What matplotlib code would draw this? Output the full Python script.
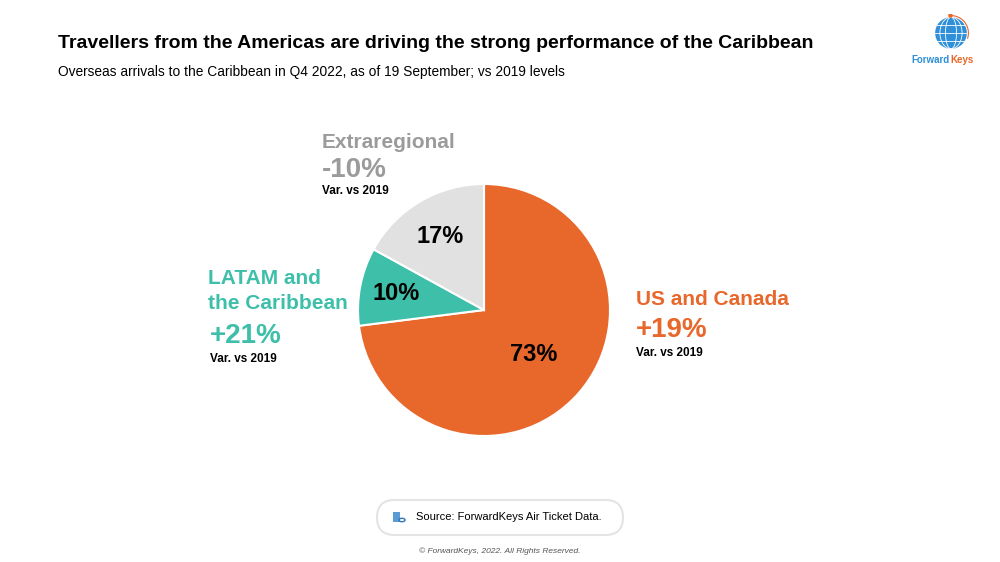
import matplotlib
matplotlib.use("Agg")
import matplotlib.pyplot as plt
from matplotlib.patches import FancyBboxPatch, Circle, Ellipse, Rectangle
import numpy as np

# ---- data ----
regions = ["US and Canada", "LATAM and\nthe Caribbean", "Extraregional"]
shares = [73, 10, 17]
share_labels = ["73%", "10%", "17%"]
variations = ["+19%", "+21%", "-10%"]
colors = ["#E8672B", "#3DBFAA", "#E1E1E1"]
text_colors = ["#E8672B", "#3DBFAA", "#9B9B9B"]

plt.rcParams['font.family'] = ['Liberation Sans', 'DejaVu Sans']

W, H = 1000, 562
fig = plt.figure(figsize=(W / 100, H / 100), dpi=100)
fig.patch.set_facecolor("white")

def px(x, y):
    return x / W, 1 - y / H

def ftext(x, y, s, **kw):
    fx, fy = px(x, y)
    fig.text(fx, fy, s, **kw)

# Title and subtitle
ftext(58, 44, "Travellers from the Americas are driving the strong performance of the Caribbean",
      fontsize=14, fontweight="bold", color="black", va="center", ha="left")
ftext(58, 72, "Overseas arrivals to the Caribbean in Q4 2022, as of 19 September; vs 2019 levels",
      fontsize=9.9, color="black", va="center", ha="left")

# Pie
cx, cy, r = 484, 310, 126
ax = fig.add_axes([(cx - r) / W, (H - cy - r) / H, 2 * r / W, 2 * r / H])
wedges, _ = ax.pie(shares, colors=colors, startangle=90, counterclock=False, radius=1,
                   wedgeprops=dict(edgecolor="white", linewidth=1.5))
ax.set_xlim(-1, 1)
ax.set_ylim(-1, 1)
ax.set_aspect("equal")
ax.axis("off")

dists = [0.53, 0.71, 0.68]
for w, lab, d in zip(wedges, share_labels, dists):
    mid = np.deg2rad((w.theta1 + w.theta2) / 2)
    ax.text(d * np.cos(mid), d * np.sin(mid), lab, ha="center", va="center",
            fontsize=17, fontweight="bold", color="black")

# Region annotations
# US and Canada
ftext(636, 300, regions[0], fontsize=15, fontweight="bold", color=text_colors[0], va="center")
ftext(636, 330, variations[0], fontsize=20, fontweight="bold", color=text_colors[0], va="center")
ftext(636, 353, "Var. vs 2019", fontsize=8.5, fontweight="bold", color="black", va="center")
# LATAM
ftext(208, 291, regions[1], fontsize=15, fontweight="bold", color=text_colors[1], va="center",
      linespacing=1.4)
ftext(210, 336, variations[1], fontsize=20, fontweight="bold", color=text_colors[1], va="center")
ftext(210, 359, "Var. vs 2019", fontsize=8.5, fontweight="bold", color="black", va="center")
# Extraregional
ftext(322, 143, regions[2], fontsize=15, fontweight="bold", color=text_colors[2], va="center")
ftext(322, 170, variations[2], fontsize=20, fontweight="bold", color=text_colors[2], va="center")
ftext(322, 191, "Var. vs 2019", fontsize=8.5, fontweight="bold", color="black", va="center")

# Source box (pill)
bx0, by0, bx1, by1 = 377, 500, 623, 535
bh = by1 - by0
box = FancyBboxPatch((bx0, H - by1), bx1 - bx0, bh,
                     boxstyle="round,pad=0,rounding_size=%f" % (bh / 2),
                     transform=None, facecolor="white", edgecolor="#E4E4E4", linewidth=1.5)
fig.patches.append(box)
# small icon
fig.patches.append(Rectangle(px(393, 522), 7 / W, 10 / H, transform=fig.transFigure,
                             facecolor="#5B9BD5", edgecolor="none"))
fig.patches.append(Circle(px(402, 520), 3 / W, transform=fig.transFigure,
                          facecolor="white", edgecolor="#2E75B6", linewidth=1))
ftext(416, 517, "Source: ForwardKeys Air Ticket Data.", fontsize=8, color="black", va="center")

# Footer
ftext(500, 551, "© ForwardKeys, 2022. All Rights Reserved.", fontsize=6, style="italic",
      color="#555555", va="center", ha="center")

# Logo
lax = fig.add_axes([932 / W, 1 - 52 / H, 38 / W, 38 / H])
lax.set_xlim(-1.2, 1.2)
lax.set_ylim(-1.2, 1.2)
lax.set_aspect("equal")
lax.axis("off")
lax.add_patch(Circle((0, 0), 1, facecolor="#2F8FD8", edgecolor="none"))
for a in [0.35, 0.7]:
    lax.add_patch(Ellipse((0, 0), 2 * a, 2, facecolor="none", edgecolor="white", lw=0.6))
for yy in [-0.5, 0, 0.5]:
    hw = np.sqrt(1 - yy ** 2)
    lax.plot([-hw, hw], [yy, yy], color="white", lw=0.6)
t = np.linspace(-0.3, 1.6, 50)
lax.plot(1.1 * np.cos(t), 1.1 * np.sin(t), color="#E8672B", lw=0.8)
lax.add_patch(Circle((1.1 * np.cos(1.6), 1.1 * np.sin(1.6)), 0.1, color="#E8672B"))
ftext(950, 60, "Forward", fontsize=7, color="#2F8FD8", fontweight="bold", ha="right", va="center")
ftext(950, 60, "Keys", fontsize=7, color="#E8672B", fontweight="bold", ha="left", va="center")

fig.savefig("out.png", dpi=100, facecolor="white")
